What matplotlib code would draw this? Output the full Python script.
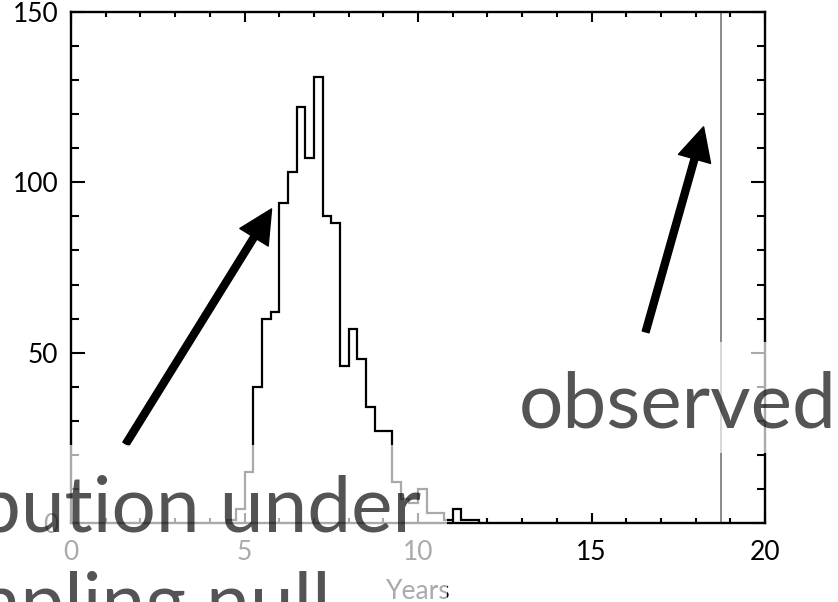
import numpy as np
import matplotlib
matplotlib.use("Agg")
import matplotlib.pyplot as plt
from matplotlib.patches import Rectangle

# histogram of simulated gaps (bins of 0.25 years)
bin_start = 4.5
bin_width = 0.25
counts = [1, 4, 15, 40, 60, 62, 94, 103, 122, 107, 131, 90, 88, 46, 57,
          48, 34, 27, 27, 12, 7, 6, 10, 3, 3, 1, 4, 1, 1]
observed = 18.73

xticks = [0, 5, 10, 15, 20]
yticks = [0, 50, 100, 150]

# arrows (tail, tip) in data units
arrow_left = [(1.58, 23.2), (5.78, 92.2)]
arrow_right = [(16.56, 56.1), (18.23, 116.3)]

plt.rcParams['font.family'] = ['Lato', 'DejaVu Sans']

fig = plt.figure(figsize=(8.38, 6.02), dpi=100)
ax = fig.add_axes([71/838, 79/602, 694/838, 511/602])

edges = bin_start + bin_width * np.arange(len(counts) + 1)
ax.stairs(counts, edges, color='black', lw=1.6, baseline=0)
ax.axvline(observed, color='#808080', lw=1.3)

ax.set_xlim(0, 20)
ax.set_ylim(0, 150)
ax.set_xticks(xticks)
ax.set_yticks(yticks)
ax.set_xticks(np.arange(0, 21, 1), minor=True)
ax.set_yticks(np.arange(0, 151, 10), minor=True)
ax.tick_params(axis='both', which='both', direction='in', top=True, right=True,
               width=1.5, colors='black')
ax.tick_params(axis='both', which='major', labelsize=19)
ax.tick_params(axis='x', which='major', length=7, pad=12)
ax.tick_params(axis='x', which='minor', length=3.5)
ax.tick_params(axis='y', which='major', length=10, pad=9)
ax.tick_params(axis='y', which='minor', length=6)
for s in ax.spines.values():
    s.set_linewidth(1.7)
ax.set_xlabel('Years', fontsize=19, labelpad=10)

for tail, tip in (arrow_left, arrow_right):
    ax.annotate('', xy=tip, xytext=tail,
                arrowprops=dict(facecolor='black', edgecolor='black',
                                width=5, headwidth=24, headlength=24, shrink=0))

# translucent slide boxes over the plot
fig.add_artist(Rectangle((0, 0), 447/838, 157/602, transform=fig.transFigure,
                         facecolor='white', edgecolor='none', alpha=0.67, zorder=5))
fig.add_artist(Rectangle((712/838, 149/602), 126/838, 111/602, transform=fig.transFigure,
                         facecolor='white', edgecolor='none', alpha=0.67, zorder=5))

big = dict(fontsize=56.5, color='black', alpha=0.67, zorder=6, va='baseline')
fig.text(519/838, 175/602, 'observed', ha='left', **big)
fig.text(421/838, 70/602, 'distribution under', ha='right', **big)
fig.text(331/838, -26/602, 'resampling null', ha='right', **big)

fig.savefig('out.png', dpi=100)
